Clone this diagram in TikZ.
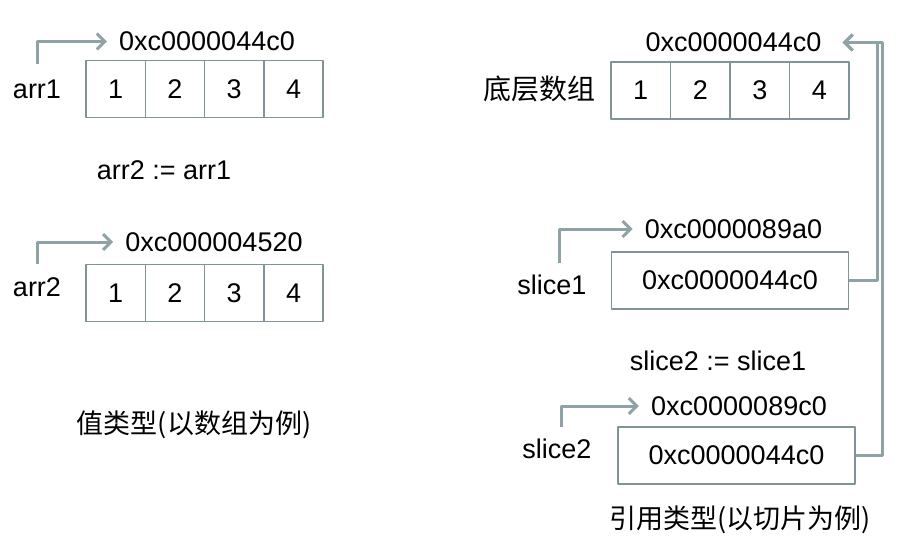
\documentclass[tikz,border=0pt]{standalone}
\usepackage{fontspec}
\setmainfont{Liberation Sans}
\newfontfamily\cjk{Noto Sans CJK SC}
\usetikzlibrary{positioning,arrows.meta}
\definecolor{linegray}{RGB}{143,163,166}
\definecolor{boxgray}{RGB}{128,148,152}
\begin{document}
\begin{tikzpicture}[x=1pt,y=-1pt,font=\fontsize{27}{32}\selectfont,line join=round,>={Straight Barb[length=8pt,width=16pt,line width=3pt]},
	cell/.style={draw=boxgray,line width=1.6pt,minimum width=59.3pt,minimum height=57pt,inner sep=0pt},
	wide/.style={cell,minimum width=237pt},
	addr/.style={inner xsep=12pt},
	ptr/.style={draw=linegray,line width=3pt,->},
	captext/.style={font=\fontsize{27}{32}\selectfont\cjk}]
	\useasboundingbox (0,0) rectangle (905,543);
	% value type
	\node[addr] (a1addr) at (207,41.5) {0xc0000044c0};
	\node (arr1) at (37,89) {arr1};
	\foreach \v [count=\i] in {1,2,3,4}\node[cell] (a1c\i) at ({86+59.3*(\i-0.5)},89) {\v};
	\coordinate (a1tail) at (37,64);
	\draw[ptr] (a1tail) |- (a1addr);
	\node (assign1) at (164,170) {arr2 := arr1};
	\node[addr] (a2addr) at (214,242) {0xc000004520};
	\node (arr2) at (37,287) {arr2};
	\foreach \v [count=\i] in {1,2,3,4}\node[cell] (a2c\i) at ({86+59.3*(\i-0.5)},293) {\v};
	\coordinate (a2tail) at (37,264);
	\draw[ptr] (a2tail) |- (a2addr);
	\node[captext] (valcap) at (194,425) {值类型(以数组为例)};
	% reference type
	\node[addr] (baddr) at (733.5,42.5) {0xc0000044c0};
	\node[font=\fontsize{28}{32}\selectfont\cjk] (base) at (539,89) {底层数组};
	\foreach \v [count=\i] in {1,2,3,4}\node[cell] (bc\i) at ({611+59.5*(\i-0.5)},90.5) {\v};
	\node[addr] (s1addr) at (733.5,229) {0xc0000089a0};
	\node (slice1) at (552,285) {slice1};
	\node[wide] (s1box) at (730,280.5) {0xc0000044c0};
	\coordinate (s1tail) at (559,263);
	\draw[ptr] (s1tail) |- (s1addr);
	\node (assign2) at (718,361) {slice2 := slice1};
	\node[addr] (s2addr) at (739,406) {0xc0000089c0};
	\node (slice2) at (557,449) {slice2};
	\node[wide] (s2box) at (736.5,455.5) {0xc0000044c0};
	\coordinate (s2tail) at (561,427);
	\draw[ptr] (s2tail) |- (s2addr);
	\draw[ptr] (s1box.east) -| ([xshift=44pt]baddr.east) -- ([xshift=9pt]baddr.east);
	\draw[ptr] (s2box.east) -| ([xshift=49pt]baddr.east) -- ([xshift=9pt]baddr.east);
	\node[captext] (refcap) at (740,520) {引用类型(以切片为例)};
\end{tikzpicture}
\end{document}
